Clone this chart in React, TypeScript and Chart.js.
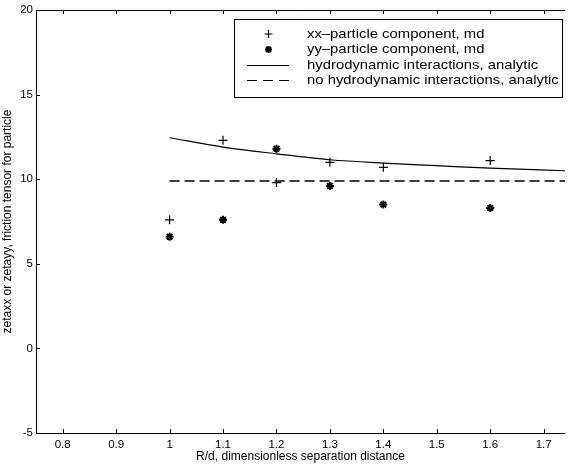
import React, { useEffect, useRef } from "react";
import { Chart, registerables } from "chart.js";

Chart.register(...registerables);

const xValues = [1.0, 1.1, 1.2, 1.3, 1.4, 1.6];
const xxValues = [7.6, 12.3, 9.8, 11.0, 10.7, 11.1];
const yyValues = [6.6, 7.6, 11.8, 9.6, 8.5, 8.3];
const hydroX = [1.0, 1.1, 1.2, 1.3, 1.4, 1.5, 1.6, 1.74];
const hydroY = [12.45, 11.9, 11.5, 11.15, 10.95, 10.8, 10.65, 10.5];
const noHydroX = [1.0, 1.74];
const noHydroY = [9.9, 9.9];
const xTickValues = [0.8, 0.9, 1.0, 1.1, 1.2, 1.3, 1.4, 1.5, 1.6, 1.7];
const xTickLabels = ["0.8", "0.9", "1", "1.1", "1.2", "1.3", "1.4", "1.5", "1.6", "1.7"];
const yTickValues = [-5, 0, 5, 10, 15, 20];
const legendLabels = [
  "xx\u2013particle component, md",
  "yy\u2013particle component, md",
  "hydrodynamic interactions, analytic",
  "no hydrodynamic interactions, analytic",
];

const FONT = "Liberation Sans, Arial, Helvetica, sans-serif";

const framePlugin = {
  id: "frame",
  afterDraw(chart: any) {
    const { ctx, chartArea } = chart;
    const { left, top, right, bottom } = chartArea;
    const xs = chart.scales.x;
    const ys = chart.scales.y;
    ctx.save();
    ctx.strokeStyle = "#000";
    ctx.lineWidth = 1;
    ctx.beginPath();
    ctx.moveTo(left + 0.5, top + 0.5);
    ctx.lineTo(right, top + 0.5);
    ctx.moveTo(left + 0.5, top + 0.5);
    ctx.lineTo(left + 0.5, bottom + 0.5);
    ctx.lineTo(right, bottom + 0.5);
    const tl = 4;
    xTickValues.forEach((v) => {
      const px = Math.round(xs.getPixelForValue(v)) + 0.5;
      ctx.moveTo(px, bottom);
      ctx.lineTo(px, bottom - tl);
      ctx.moveTo(px, top);
      ctx.lineTo(px, top + tl);
    });
    yTickValues.forEach((v) => {
      const py = Math.round(ys.getPixelForValue(v)) + 0.5;
      ctx.moveTo(left, py);
      ctx.lineTo(left + tl, py);
    });
    ctx.stroke();

    // legend
    const bx = 234.5, by = 19.5, bw = 328, bh = 78;
    ctx.fillStyle = "#fff";
    ctx.fillRect(bx, by, bw, bh);
    ctx.strokeRect(bx, by, bw, bh);
    const rows = [34, 49.5, 65.5, 80.5];
    ctx.fillStyle = "#000";
    ctx.font = `13.5px ${FONT}`;
    ctx.textBaseline = "middle";
    ctx.textAlign = "left";
    legendLabels.forEach((t, i) => {
      ctx.save();
      ctx.translate(307, rows[i]);
      ctx.scale(1.1, 1);
      ctx.fillText(t, 0, 0);
      ctx.restore();
    });
    const mx = 268.5;
    // plus
    ctx.beginPath();
    ctx.lineWidth = 1.2;
    ctx.moveTo(mx - 4, rows[0]);
    ctx.lineTo(mx + 4, rows[0]);
    ctx.moveTo(mx, rows[0] - 4);
    ctx.lineTo(mx, rows[0] + 4);
    ctx.stroke();
    // star
    ctx.beginPath();
    ctx.lineWidth = 2;
    const r = 3.5;
    ctx.moveTo(mx - r, rows[1]);
    ctx.lineTo(mx + r, rows[1]);
    ctx.moveTo(mx, rows[1] - r);
    ctx.lineTo(mx, rows[1] + r);
    const d = r * 0.707;
    ctx.moveTo(mx - d, rows[1] - d);
    ctx.lineTo(mx + d, rows[1] + d);
    ctx.moveTo(mx - d, rows[1] + d);
    ctx.lineTo(mx + d, rows[1] - d);
    ctx.stroke();
    ctx.lineWidth = 1;
    ctx.beginPath();
    ctx.moveTo(247, rows[2]);
    ctx.lineTo(289, rows[2]);
    ctx.stroke();
    ctx.setLineDash([10, 6]);
    ctx.beginPath();
    ctx.moveTo(247, rows[3]);
    ctx.lineTo(289, rows[3]);
    ctx.stroke();
    ctx.restore();
  },
};

export default function App() {
  const ref = useRef<HTMLCanvasElement>(null);
  useEffect(() => {
    document.body.style.margin = "0";
    const ctx = ref.current!;
    const chart = new Chart(ctx, {
      type: "line",
      data: {
        datasets: [
          {
            label: legendLabels[0],
            data: xValues.map((x, i) => ({ x, y: xxValues[i] })),
            showLine: false,
            pointStyle: "cross",
            pointRadius: 4.5,
            pointBorderWidth: 1.2,
            borderColor: "#000",
            backgroundColor: "#000",
          },
          {
            label: legendLabels[1],
            data: xValues.map((x, i) => ({ x, y: yyValues[i] })),
            showLine: false,
            pointStyle: "star",
            pointRadius: 4,
            pointBorderWidth: 2,
            borderColor: "#000",
            backgroundColor: "#000",
          },
          {
            label: legendLabels[2],
            data: hydroX.map((x, i) => ({ x, y: hydroY[i] })),
            pointRadius: 0,
            borderWidth: 1.2,
            borderColor: "#000",
            cubicInterpolationMode: "monotone",
          },
          {
            label: legendLabels[3],
            data: noHydroX.map((x, i) => ({ x, y: noHydroY[i] })),
            pointRadius: 0,
            borderWidth: 1.5,
            borderColor: "#000",
            borderDash: [10, 5],
          },
        ],
      },
      options: {
        responsive: false,
        animation: false,
        layout: { padding: { top: 10, right: 0, left: 0, bottom: 0 } },
        plugins: { legend: { display: false }, tooltip: { enabled: false } },
        scales: {
          x: {
            type: "linear",
            min: 0.75,
            max: 1.74,
            grid: { display: false, drawTicks: false },
            border: { display: false },
            afterBuildTicks: (s: any) => {
              s.ticks = xTickValues.map((v) => ({ value: v }));
            },
            afterFit: (s: any) => {
              s.height = 33;
            },
            ticks: {
              color: "#000",
              padding: 5,
              maxRotation: 0,
              font: { family: FONT, size: 11.5 },
              callback: (v: any) => {
                const i = xTickValues.findIndex((t) => Math.abs(t - v) < 1e-6);
                return i >= 0 ? xTickLabels[i] : "";
              },
            },
            title: {
              display: true,
              text: "R/d, dimensionless separation distance",
              color: "#000",
              font: { family: FONT, size: 12 },
              padding: { top: 0, bottom: 2 },
            },
          },
          y: {
            min: -5,
            max: 20,
            grid: { display: false, drawTicks: false },
            border: { display: false },
            afterBuildTicks: (s: any) => {
              s.ticks = yTickValues.map((v) => ({ value: v }));
            },
            afterFit: (s: any) => {
              s.width = 36;
            },
            ticks: {
              color: "#000",
              padding: 3,
              font: { family: FONT, size: 11.5 },
            },
            title: {
              display: true,
              text: "zetaxx or zetayy, friction tensor for particle",
              color: "#000",
              font: { family: FONT, size: 12 },
              padding: { top: 0, bottom: 0 },
            },
          },
        },
      },
      plugins: [framePlugin],
    } as any);
    return () => chart.destroy();
  }, []);
  return (
    <div style={{ width: 571, height: 466 }}>
      <canvas ref={ref} width={571} height={466} />
    </div>
  );
}
